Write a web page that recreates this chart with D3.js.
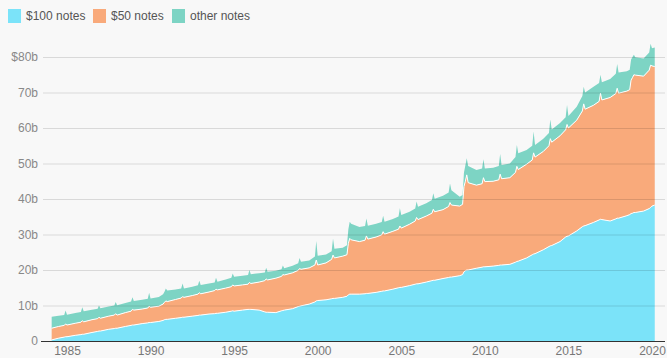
<!DOCTYPE html>
<html><head><meta charset="utf-8">
<script src="https://cdn.jsdelivr.net/npm/d3@7"></script>
<style>
html,body{margin:0;padding:0;background:#f8f8f8;}
svg{display:block;font-family:"Liberation Sans",Arial,sans-serif;}
</style></head><body>
<svg id="c" width="667" height="358"></svg>
<script>
const months = [
"1984-02","1984-07","1984-11","1984-12",
"1985-01","1985-07","1985-11","1985-12",
"1986-01","1986-07","1986-11","1986-12",
"1987-01","1987-07","1987-11","1987-12",
"1988-01","1988-07","1988-11","1988-12",
"1989-01","1989-07","1989-11","1989-12",
"1990-01","1990-07","1990-10","1990-11","1990-12",
"1991-01","1991-07","1991-11","1991-12",
"1992-01","1992-07","1992-11","1992-12",
"1993-01","1993-07","1993-11","1993-12",
"1994-01","1994-07","1994-11","1994-12",
"1995-01","1995-07","1995-11","1995-12",
"1996-01","1996-07","1996-11","1996-12",
"1997-01","1997-07","1997-11","1997-12",
"1998-01","1998-07","1998-11","1998-12",
"1999-01","1999-07","1999-11","1999-12",
"2000-01","2000-07","2000-11","2000-12",
"2001-01","2001-07","2001-10","2001-11","2001-12",
"2002-01","2002-07","2002-11","2002-12",
"2003-01","2003-07","2003-11","2003-12",
"2004-01","2004-07","2004-11","2004-12",
"2005-01","2005-07","2005-11","2005-12",
"2006-01","2006-07","2006-11","2006-12",
"2007-01","2007-07","2007-11","2007-12",
"2008-01","2008-07","2008-09","2008-10","2008-11","2008-12",
"2009-01","2009-07","2009-11","2009-12",
"2010-01","2010-07","2010-11","2010-12",
"2011-01","2011-07","2011-11","2011-12",
"2012-01","2012-07","2012-11","2012-12",
"2013-01","2013-07","2013-11","2013-12",
"2014-01","2014-07","2014-11","2014-12",
"2015-01","2015-07","2015-11","2015-12",
"2016-01","2016-07","2016-11","2016-12",
"2017-01","2017-07","2017-11","2017-12",
"2018-01","2018-07","2018-09","2018-10","2018-11","2018-12",
"2019-01","2019-07","2019-11","2019-12",
"2020-01","2020-03"
];
const hundred = [
0.3,0.8,1.1,1.2,
1.2,1.6,1.8,1.9,
1.9,2.4,2.7,2.8,
2.8,3.3,3.5,3.6,
3.6,4.1,4.4,4.5,
4.5,4.9,5.1,5.2,
5.2,5.5,5.8,6.0,6.1,
6.1,6.4,6.6,6.7,
6.7,7.0,7.2,7.3,
7.3,7.6,7.7,7.8,
7.8,8.1,8.4,8.5,
8.4,8.7,8.9,8.9,
8.9,8.7,8.2,8.1,
8.1,8.0,8.5,8.6,
8.7,9.1,9.7,9.8,
9.9,10.4,11.0,11.3,
11.4,11.6,11.9,12.0,
12.0,12.3,12.6,13.0,13.2,
13.2,13.2,13.3,13.4,
13.4,13.7,14.0,14.1,
14.1,14.6,15.0,15.1,
15.1,15.6,16.0,16.1,
16.1,16.6,17.0,17.1,
17.1,17.6,17.9,18.0,
18.0,18.4,18.7,19.5,19.8,20.0,
20.0,20.5,20.8,20.9,
20.9,21.1,21.3,21.4,
21.4,21.6,22.2,22.4,
22.5,23.4,24.3,24.5,
24.6,25.7,26.6,26.8,
26.9,28.0,29.3,29.5,
29.6,31.0,32.2,32.4,
32.5,33.4,34.1,34.3,
34.2,33.8,34.4,34.6,
34.6,35.3,35.6,35.9,36.0,36.2,
36.2,36.6,37.3,37.6,
38.0,38.3
];
const fifty = [
3.3,3.3,3.3,3.6,
3.3,3.4,3.5,3.8,
3.5,3.6,3.6,3.9,
3.6,3.7,3.8,4.1,
3.7,3.9,4.0,4.4,
4.2,4.1,4.2,4.6,
4.3,4.3,4.6,4.9,5.2,
5.0,5.3,5.5,5.8,
5.6,5.8,6.0,6.3,
6.0,6.2,6.5,6.8,
6.6,6.8,6.9,7.3,
7.1,7.1,7.1,7.6,
7.3,7.9,8.8,9.4,
9.1,9.7,9.7,10.1,
9.9,10.1,10.2,10.6,
10.3,10.2,10.4,11.5,
10.0,10.4,11.1,12.2,
11.4,11.6,11.7,14.5,15.7,
15.3,14.8,15.1,16.2,
15.3,15.6,15.9,16.7,
16.0,16.3,16.5,17.3,
16.7,17.3,17.8,18.7,
18.1,18.6,19.0,20.0,
19.3,19.4,20.0,21.0,
20.3,19.6,19.8,24.0,25.2,26.8,
24.6,23.4,23.5,25.1,
24.0,23.9,24.1,25.6,
24.3,24.4,25.3,26.8,
25.8,26.4,26.7,28.5,
27.2,27.7,28.4,30.2,
29.1,29.8,30.2,31.5,
30.4,31.2,32.6,34.4,
32.8,33.0,33.4,35.5,
33.7,34.8,35.3,36.6,
35.2,35.1,35.2,37.6,38.2,38.8,
38.7,38.0,39.0,40.1,
39.5,39.0
];
const other = [
3.2,3.0,2.9,3.8,
2.9,2.9,2.9,3.8,
3.0,2.8,2.8,3.3,
2.8,2.7,2.7,3.3,
2.8,2.7,2.7,3.4,
2.6,2.6,2.6,3.8,
2.5,2.6,2.8,3.0,3.5,
3.1,2.8,2.7,3.7,
2.5,2.5,2.5,3.4,
2.5,2.4,2.3,3.2,
2.3,2.4,2.5,3.2,
2.6,2.6,2.6,3.5,
2.6,2.5,2.3,3.1,
2.3,2.1,2.0,2.6,
1.9,2.0,2.0,3.0,
2.1,2.1,2.4,5.4,
2.6,2.4,2.3,4.7,
2.6,2.4,2.7,4.0,4.7,
4.5,4.1,4.0,4.9,
3.8,3.7,3.6,4.5,
3.5,3.5,3.6,5.0,
3.7,3.5,3.5,4.5,
3.6,3.6,3.7,4.5,
3.7,3.9,3.9,5.4,
4.2,2.6,2.6,4.0,4.5,4.7,
4.7,4.3,4.3,5.2,
3.7,3.8,3.9,5.7,
3.9,4.0,4.3,6.0,
4.6,4.0,4.0,6.0,
3.4,3.6,3.6,5.4,
3.6,3.6,3.5,5.5,
3.4,3.8,4.2,4.8,
4.7,5.2,5.2,5.2,
5.0,5.2,5.6,6.8,
5.8,5.6,5.6,5.8,5.8,5.6,
5.0,5.0,5.0,6.0,
5.0,5.4
];
const seriesKeys = ["hundred","fifty","other"];
const seriesNames = ["$100 notes","$50 notes","other notes"];
const seriesColors = ["#7be3f9","#f9aa7b","#7dd4c4"];
const yTickValues = [0,10,20,30,40,50,60,70,80];
const xTickYears = [1985,1990,1995,2000,2005,2010,2015,2020];

const svg = d3.select("#c");
const parse = d3.timeParse("%Y-%m");
const rows = months.map((m,i)=>({date:parse(m), hundred:hundred[i], fifty:fifty[i], other:other[i]}));

const x = d3.scaleTime().domain([new Date(1985,0,1), new Date(2020,0,1)]).range([67,652]);
const y = d3.scaleLinear().domain([0,80]).range([341,57]);

const layers = d3.stack().keys(seriesKeys)(rows);
const area = d3.area().x(d=>x(d.data.date)).y0(d=>y(d[0])).y1(d=>y(d[1]));
const topLine = d3.line().x(d=>x(d.data.date)).y(d=>y(d[1]));

svg.append("g").selectAll("path").data(layers).join("path")
  .attr("d", area).attr("fill",(d,i)=>seriesColors[i]);
svg.append("g").selectAll("path").data(layers.slice(0,2)).join("path")
  .attr("d", topLine).attr("fill","none").attr("stroke","#fff").attr("stroke-width",1);

// y axis with gridlines
const yAxis = d3.axisLeft(y).tickValues(yTickValues).tickSize(-622).tickPadding(5)
  .tickFormat(d=> d===80 ? "$80b" : d===0 ? "0" : d+"b");
const gy = svg.append("g").attr("transform","translate(43,0)").call(yAxis);
gy.select(".domain").remove();
gy.selectAll(".tick line").attr("stroke","rgba(0,0,0,0.12)");
gy.selectAll(".tick").filter(d=>d===0).select("line").remove();
gy.selectAll("text").attr("fill","#888").attr("font-size",12).attr("font-family","Liberation Sans, Arial, sans-serif");

// x axis
const xAxis = d3.axisBottom(x).tickValues(xTickYears.map(yr=>new Date(yr,0,1)))
  .tickSize(0).tickPadding(5).tickFormat(d3.timeFormat("%Y"));
const gx = svg.append("g").attr("transform","translate(0,341)").call(xAxis);
gx.select(".domain").remove();
gx.selectAll("text").attr("fill","#777").attr("font-size",12).attr("font-family","Liberation Sans, Arial, sans-serif");
svg.append("line").attr("x1",41).attr("x2",665).attr("y1",341.5).attr("y2",341.5)
  .attr("stroke","#333").attr("stroke-width",1);

// legend
const legendX = [8,93,172];
const lg = svg.append("g").selectAll("g").data(seriesNames).join("g")
  .attr("transform",(d,i)=>`translate(${legendX[i]},9)`);
lg.append("rect").attr("width",13).attr("height",14).attr("fill",(d,i)=>seriesColors[i]);
lg.append("text").attr("x",18).attr("y",7).attr("dy","0.35em").attr("font-size",12)
  .attr("fill","#555").text(d=>d);
</script>
</body></html>
